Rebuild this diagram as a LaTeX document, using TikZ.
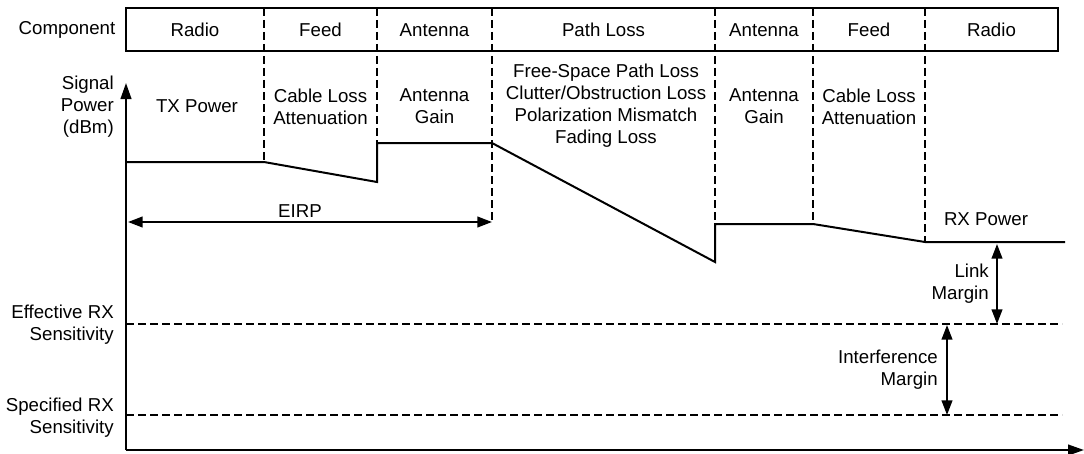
\documentclass[tikz,border=0pt]{standalone}
\usepackage{fontspec}
\setmainfont{Liberation Sans}
\usetikzlibrary{arrows.meta}
\begin{document}
\begin{tikzpicture}[x=0.75pt,y=-0.75pt,
  lbl/.style={font=\fontsize{14}{16.5}\selectfont, align=center, inner sep=0pt},
  rlbl/.style={lbl, align=right, anchor=east},
  solidline/.style={line width=1.5pt},
  divider/.style={line width=1pt, dash pattern=on 6pt off 3pt},
  dbl/.style={{Triangle[length=11pt,width=8pt]}-{Triangle[length=11pt,width=8pt]}, line width=1.5pt}]
\useasboundingbox (0,0) rectangle (1084,453);

% component header
\coordinate (hdrNW) at (126,8);
\coordinate (hdrSE) at (1058,51);
\draw[solidline] (hdrNW) rectangle (hdrSE);
\node[lbl] (comp) at (67,30) {Component};
\node[lbl] (hRadioTx) at (195,30) {Radio};
\node[lbl] (hFeedTx) at (320.5,30) {Feed};
\node[lbl] (hAntTx) at (434.5,30) {Antenna};
\node[lbl] (hPath) at (603.5,30) {Path Loss};
\node[lbl] (hAntRx) at (764,30) {Antenna};
\node[lbl] (hFeedRx) at (869,30) {Feed};
\node[lbl] (hRadioRx) at (991.5,30) {Radio};

% axes
\coordinate (origin) at (126,450);
\coordinate (ytip) at (126,83);
\coordinate (xtip) at (1084,450);
\draw[solidline, -{Triangle[length=12pt,width=8pt]}] (origin) -- (ytip);
\draw[solidline, -{Triangle[length=12pt,width=8pt]}] (origin) -- (xtip);
\node[rlbl] (ylabel) at (114,107) {Signal\\Power\\(dBm)};

% power level profile
\coordinate (p0) at (126,162);
\coordinate (p1) at (264,162);
\coordinate (p2) at (377,182);
\coordinate (p3) at (377,143);
\coordinate (p4) at (492,143);
\coordinate (p5) at (715,262);
\coordinate (p6) at (715,224);
\coordinate (p7) at (813,224);
\coordinate (p8) at (925,242);
\coordinate (p9) at (1065,242);
\draw[solidline, line join=miter] (p0) -- (p1) -- (p2) -- (p3) -- (p4) -- (p5) -- (p6) -- (p7) -- (p8) -- (p9);

% stage dividers
\coordinate (d1) at (264,8);
\coordinate (d2) at (377,8);
\coordinate (d3) at (492,8);
\coordinate (d4) at (715,8);
\coordinate (d5) at (813,8);
\coordinate (d6) at (925,8);
\coordinate (eirpR) at (492,222);
\coordinate (eirpL) at (128,222);
\draw[divider] (d1) -- (p1);
\draw[divider] (d2) -- (p3);
\draw[divider] (d3) -- (eirpR);
\draw[divider] (d4) -- (p6);
\draw[divider] (d5) -- (p7);
\draw[divider] (d6) -- (p8);

% stage labels
\node[lbl] (txpow) at (197,106) {TX Power};
\node[lbl] (cableTx) at (320.5,106.5) {Cable Loss\\Attenuation};
\node[lbl] (gainTx) at (434.5,106.5) {Antenna\\Gain};
\node[lbl] (pathlbl) at (606,106) {Free-Space Path Loss\\Clutter/Obstruction Loss\\Polarization Mismatch\\Fading Loss};
\node[lbl] (gainRx) at (764,106.5) {Antenna\\Gain};
\node[lbl] (cableRx) at (869,106.5) {Cable Loss\\Attenuation};
\node[lbl] (rxpow) at (986,219) {RX Power};

% EIRP span
\draw[dbl] (eirpL) -- (eirpR);
\node[lbl] (eirp) at (300,211) {EIRP};

% sensitivity thresholds
\coordinate (effL) at (126,324);
\coordinate (effR) at (1062,324);
\coordinate (spcL) at (126,415);
\coordinate (spcR) at (1062,415);
\draw[divider] (effL) -- (effR);
\draw[divider] (spcL) -- (spcR);
\node[rlbl] (efflbl) at (114,325) {Effective RX\\Sensitivity};
\node[rlbl] (spclbl) at (114,418) {Specified RX\\Sensitivity};

% margins
\coordinate (lmTop) at (997,244);
\coordinate (lmBot) at (997,324);
\coordinate (imTop) at (947,325);
\coordinate (imBot) at (947,415);
\draw[dbl] (lmTop) -- (lmBot);
\draw[dbl] (imTop) -- (imBot);
\node[rlbl] (linkm) at (989,284) {Link\\Margin};
\node[rlbl] (intm) at (938,370) {Interference\\Margin};
\end{tikzpicture}
\end{document}
